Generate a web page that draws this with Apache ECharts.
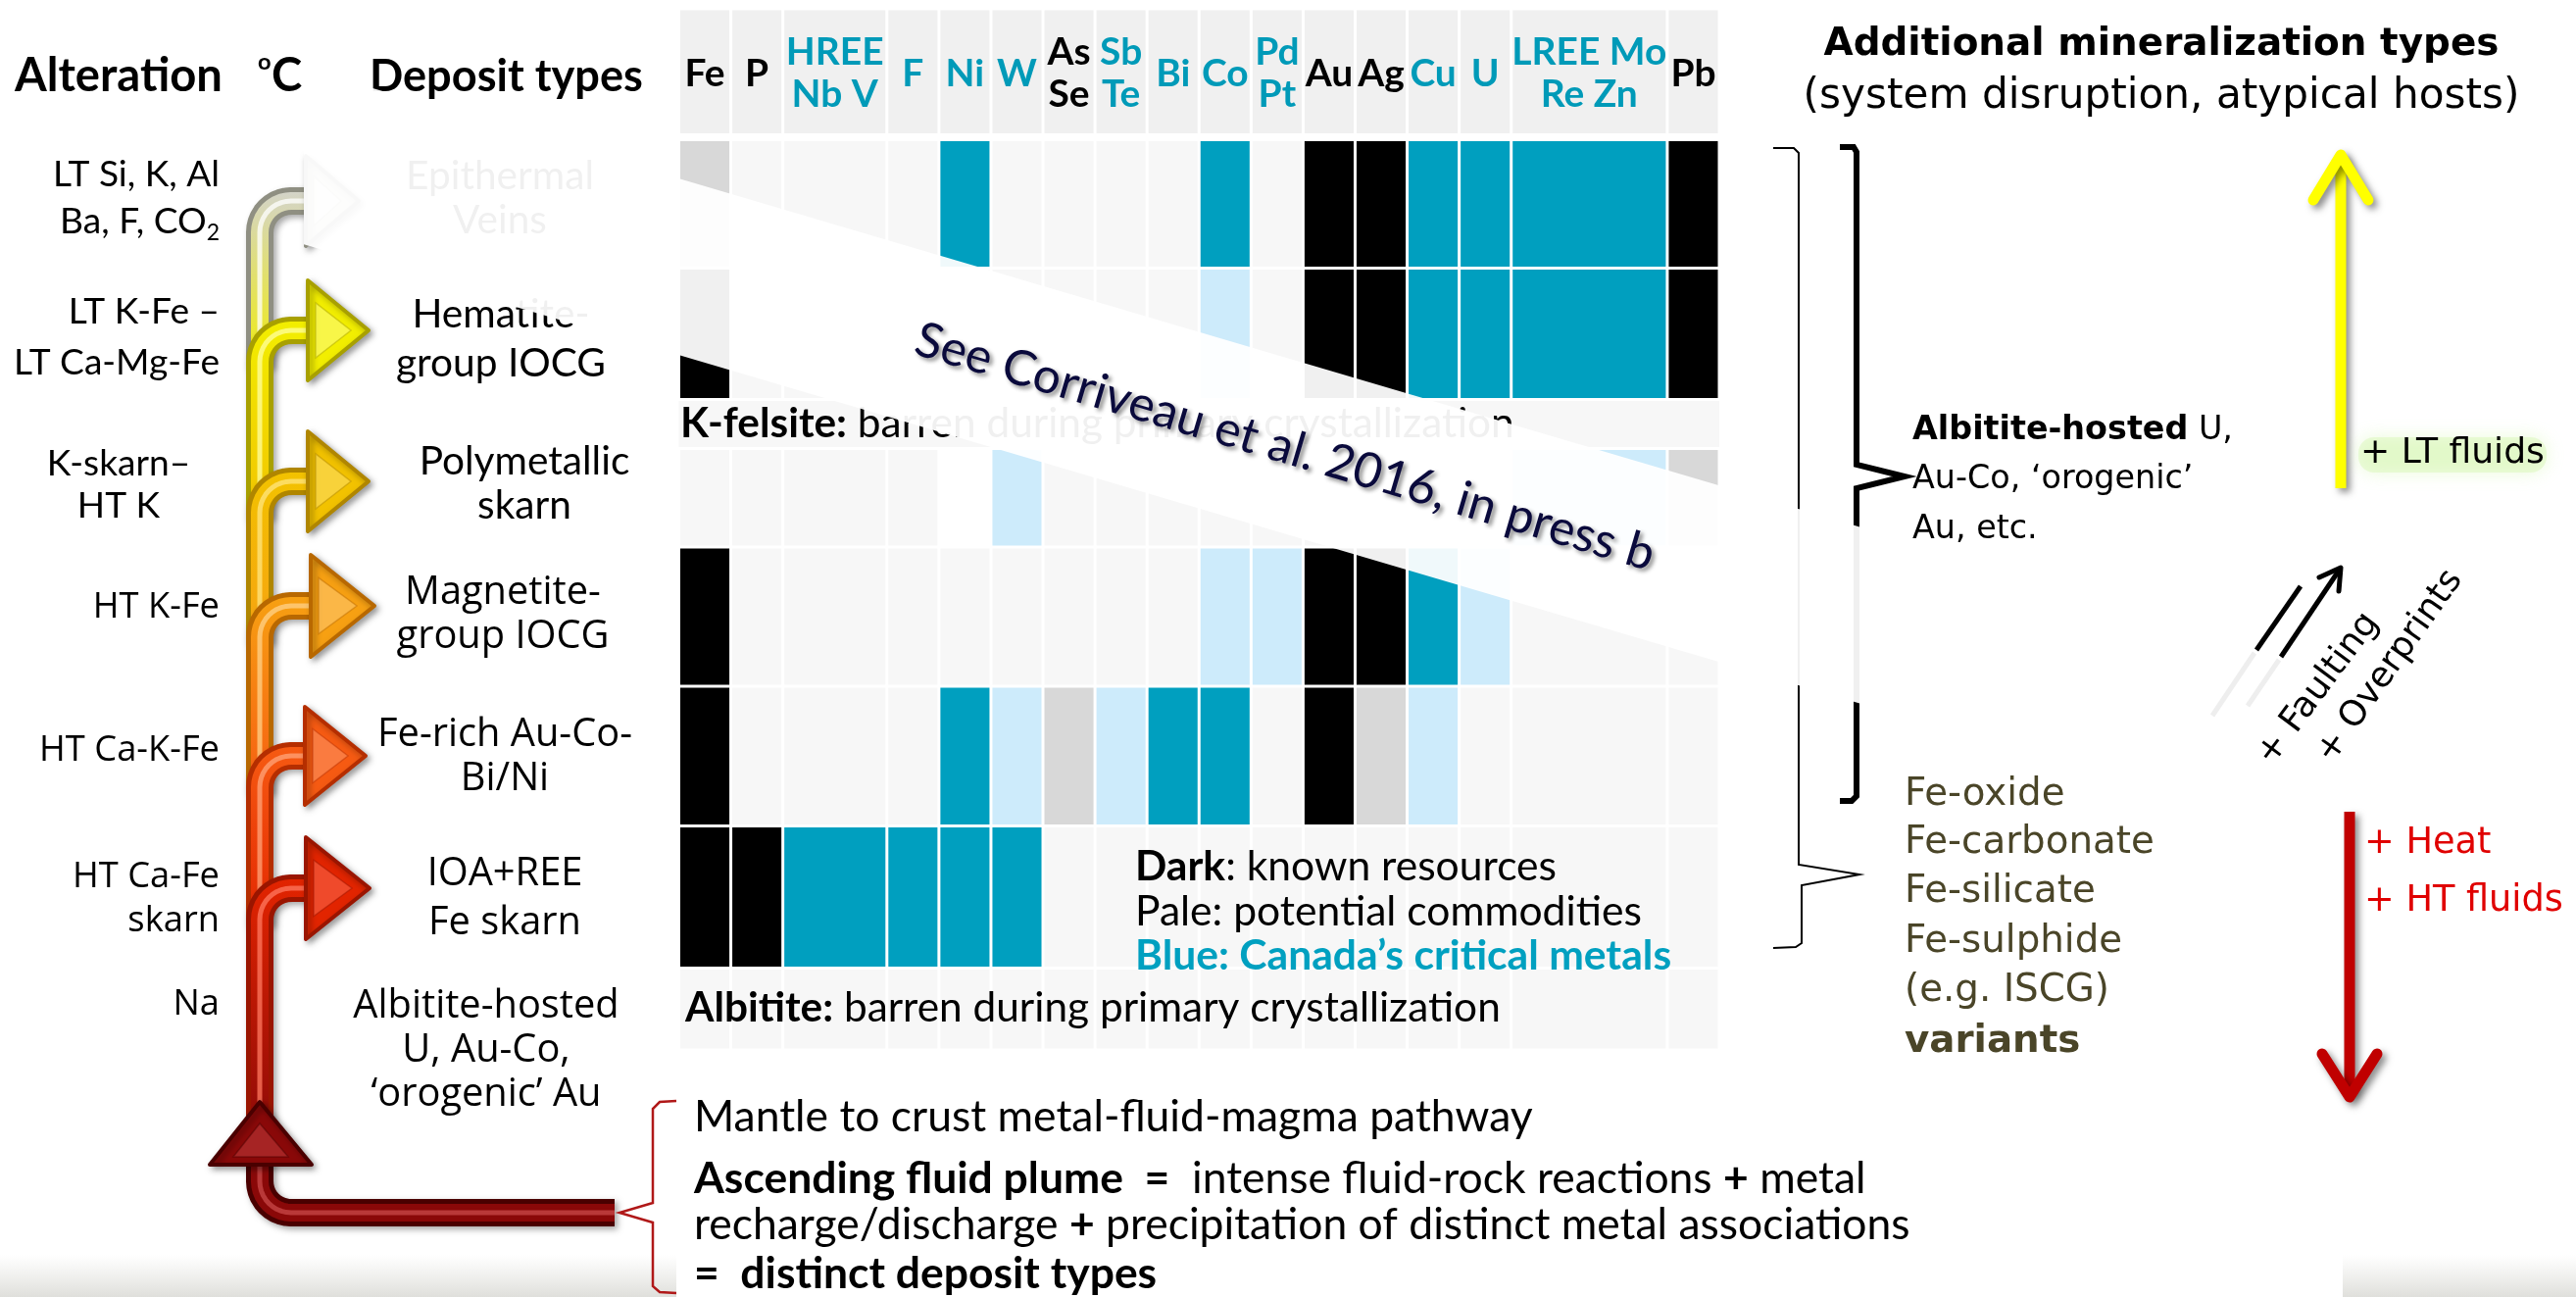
<!DOCTYPE html>
<html><head><meta charset="utf-8">
<script src="https://cdn.jsdelivr.net/npm/echarts@6.0.0/dist/echarts.min.js"></script>
<style>html,body{margin:0;padding:0;background:#fff}#c{width:2628px;height:1323px}</style>
</head><body><div id="c"></div>
<script>
// ================= DATA =================
const metals = ['Fe','P','HREE\nNb V','F','Ni','W','As\nSe','Sb\nTe','Bi','Co','Pd\nPt','Au','Ag','Cu','U','LREE Mo\nRe Zn','Pb'];
const metalSpan = [1,1,2,1,1,1,1,1,1,1,1,1,1,1,1,3,1];          // merged header columns
const criticalMetal = [0,0,1,1,1,1,0,1,1,1,1,0,0,1,1,1,0];       // 1 = Canada's critical metal (blue)
// cell codes: 0 none, 1 potential commodity (pale), 2 known resource (dark), 3 blank
const epithermalVeins   = [1,0,0,0,2,0,0,0,0,2,0,2,2,2,2,2,2];
const hematiteIOCG      = [2,0,0,0,0,0,0,0,0,1,0,2,2,2,2,2,2];
const polymetallicSkarn = [0,0,0,0,3,1,0,0,0,0,0,0,0,0,0,1,1];
const magnetiteIOCG     = [2,0,0,0,0,0,0,0,0,1,1,2,2,2,1,0,0];
const feRichAuCoBiNi    = [2,0,0,0,2,1,1,1,2,2,0,2,1,1,0,0,0];
const ioaREEFeSkarn     = [2,2,2,2,2,2,0,0,0,0,0,0,0,0,0,0,0];
const albititeBarren    = [0,0,0,0,0,0,0,0,0,0,0,0,0,0,0,0,0];

const depositTypes = ['Epithermal\nVeins','Hematite-\ngroup IOCG','Polymetallic\nskarn','Magnetite-\ngroup IOCG','Fe-rich Au-Co-\nBi/Ni','IOA+REE\nFe skarn','Albitite-hosted\nU, Au-Co,\n‘orogenic’ Au'];
const alterationTypes = ['LT Si, K, Al\nBa, F, CO2','LT K-Fe –\nLT Ca-Mg-Fe','K-skarn–\nHT K','HT K-Fe','HT Ca-K-Fe','HT Ca-Fe\nskarn','Na'];
const fePhases = ['Fe-oxide','Fe-carbonate','Fe-silicate','Fe-sulphide','(e.g. ISCG)','variants'];

// ================= LAYOUT =================
const rows = [
  {kind:'header', h:128.5},
  {kind:'gap', h:5},
  {kind:'cells', h:131, v:epithermalVeins},
  {kind:'cells', h:134, v:hematiteIOCG},
  {kind:'band', h:50},
  {kind:'cells', h:100.5, v:polymetallicSkarn},
  {kind:'cells', h:142, v:magnetiteIOCG},
  {kind:'cells', h:142.5, v:feRichAuCoBiNi},
  {kind:'cells', h:145, v:ioaREEFeSkarn},
  {kind:'cells', h:83.5, v:albititeBarren}
];
const colStart = []; {let a=0; metalSpan.forEach(s=>{colStart.push(a); a+=s;});}
const totalUnits = metalSpan.reduce((a,b)=>a+b,0);
const totalH = rows.reduce((a,r)=>a+r.h,0);

const cellData = [];
{let top=0;
 rows.forEach(r=>{
   const bot = top + r.h;
   if (r.kind==='header') metals.forEach((m,c)=>cellData.push([colStart[c], colStart[c]+metalSpan[c], top, bot, 0, 0, c]));
   else if (r.kind==='cells') r.v.forEach((code,c)=>cellData.push([colStart[c], colStart[c]+metalSpan[c], top, bot, 1, code, c]));
   else if (r.kind==='band') cellData.push([0, totalUnits, top, bot, 2, 0, -1]);
   top = bot;
 });
}

const BLUE = '#009fbf', PALEBLUE = '#cdebfb', GREY = '#d8d8d8', EMPTY = '#f7f7f7';
function cellColor(code, crit){
  if (code===1) return crit ? PALEBLUE : GREY;
  if (code===2) return crit ? BLUE : '#000000';
  if (code===3) return '#ffffff';
  return EMPTY;
}

const LATO = 'Lato, "Liberation Sans Narrow", sans-serif';
const OPEN = '"Open Sans", "Noto Sans", sans-serif';
const DEJA = '"DejaVu Sans", Verdana, sans-serif';
const cv = document.createElement('canvas').getContext('2d');
function textW(segs, fam, size){let w=0; segs.forEach(s=>{cv.font=(s[1]||'normal')+' '+size+'px '+fam; w+=cv.measureText(s[0]).width;}); return w;}
function fit(segs, fam, target){return 100*target/textW(segs, fam, 100);}

const sHdrMetal = fit([['LREE Mo','bold']], LATO, 158);
const sAlt = fit([['Alteration','bold']], LATO, 212);
const sDepH = fit([['Deposit types','bold']], LATO, 279);
const sAltTop = fit([['LT Ca-Mg-Fe']], LATO, 210);
const sAltLow = fit([['HT Ca-K-Fe']], OPEN, 184);
const sDepTop = fit([['group IOCG']], LATO, 214);
const sDepLow = fit([['Fe-rich Au-Co-']], OPEN, 260);
const sRowTxt = fit([['Albitite:','bold'],[' barren during primary crystallization']], LATO, 832);
const sLegend = fit([['Pale: potential commodities']], LATO, 517);
const sBanner = fit([['See Corriveau et al. 2016, in press b']], LATO, 784);
const sBottom = fit([['recharge/discharge '],['+','bold'],[' precipitation of distinct metal associations']], LATO, 1241);
const sTitle = fit([['Additional mineralization types','bold']], DEJA, 689);
const sSub = fit([['(system disruption, atypical hosts)']], DEJA, 731);
const sAlbH = fit([['Albitite-hosted','bold'],[' U,']], DEJA, 327);
const sFe = fit([['Fe-carbonate']], DEJA, 255);
const sLT = fit([['+ LT fluids']], DEJA, 188);
const sHT = fit([['+ HT fluids']], DEJA, 203);
const sFault = fit([['+ Faulting']], DEJA, 184);

function txt(text, x, y, size, o){
  o = o || {};
  const al = o.align || 'left';
  const st = {text:text, x:x, y:y, fontSize:size, fontFamily:o.family||LATO, fontWeight:o.weight||'normal',
    fill:o.color||'#000', align:al, textAlign:al, verticalAlign:'middle', textVerticalAlign:'middle'};
  if (o.lineHeight) st.lineHeight = o.lineHeight;
  if (o.rich) st.rich = o.rich;
  if (o.shadow){ st.textShadowColor=o.shadow.c; st.textShadowBlur=o.shadow.b; st.textShadowOffsetX=o.shadow.x||0; st.textShadowOffsetY=o.shadow.y||0; }
  const el = {type:'text', z:o.z==null?5:o.z, silent:true, style:st};
  if (o.rotation!=null){ el.x=x; el.y=y; st.x=0; st.y=0; el.rotation=o.rotation; }
  return el;
}
function bold(size, fam, extra){return Object.assign({fontWeight:'bold', fontSize:size, fontFamily:fam}, extra||{});}

const G = [];
let zc = 3;
function add(el){ if (el.z==null) el.z = (zc+=0.01); G.push(el); return el; }

// ---------- left headers ----------
add(txt('Alteration', 15, 78, sAlt, {weight:'bold'}));
add(txt('o', 263, 63, sAlt*0.5, {weight:'bold'}));
add(txt('C', 277, 78, sAlt, {weight:'bold'}));
add(txt('Deposit types', 377, 78, sDepH, {weight:'bold'}));

// ---------- alteration labels ----------
const altLines = alterationTypes.map(s=>s.split('\n'));
const altY = [[178,226],[318,370],[473,516],[620],[766],[895,940],[1025]];
altLines.forEach((ls,i)=>{
  ls.forEach((t,j)=>{
    const top = i<3, fam = top?LATO:OPEN, sz = top?sAltTop:sAltLow;
    if (i===2){ add(txt(t, 121, altY[i][j], sz, {family:fam, align:'center'})); return; }
    if (t.endsWith('CO2')){
      const w2 = textW([['2']], fam, sz*0.62);
      add(txt(t.slice(0,-1), 224 - w2, altY[i][j], sz, {family:fam, align:'right'}));
      add(txt('2', 224, altY[i][j]+12, sz*0.62, {family:fam, align:'right'}));
      return;
    }
    add(txt(t, 224, altY[i][j], sz, {family:fam, align:'right'}));
  });
});

// ---------- deposit type labels ----------
const depY = [[180,225],[321,371],[471,516],[605,650],[750,795],[892,942],[1027,1072,1117]];
const depX = [510,511,535,513,515,515,496];
depositTypes.forEach((s,i)=>{
  s.split('\n').forEach((t,j)=>{
    const top = i<3;
    add(txt(t, depX[i], depY[i][j], top?sDepTop:sDepLow, {family:top?LATO:OPEN, align:'center'}));
  });
});

// ---------- pipes (ascending plume) ----------
const X0 = 265, R = 32, PW = 28;
const branchY = [205, 337, 491, 618, 771, 906];
const branchTip = [366, 376, 376, 382, 373, 377];
const branchBase = [312, 314, 314, 317, 311, 312];
const branchHalf = [46, 51, 51, 52, 50, 52];
const pipeCol = [
 ['#8f8f82','#d4d4c8','#ffffff'],
 ['#a8a000','#f2ee00','#ffffa0'],
 ['#b08600','#f2c200','#ffe680'],
 ['#b86800','#f7a012','#ffd28a'],
 ['#b52e00','#f65a12','#ffa47a'],
 ['#9a1500','#e22400','#ff7a60'],
 ['#4a0000','#8a0808','#c84848']];
function arc(cx, cy, r, a0, a1){const p=[]; for(let i=0;i<=10;i++){const a=a0+(a1-a0)*i/10; p.push([cx+r*Math.cos(a), cy+r*Math.sin(a)]);} return p;}
function pipe(pts, c, c2){
  const grad = new echarts.graphic.LinearGradient(0,0,0,1,[{offset:0,color:c[1]},{offset:1,color:c2?c2[1]:c[1]}]);
  add({type:'polyline', silent:true, shape:{points:pts}, style:{stroke:c[0], lineWidth:PW, fill:null, lineJoin:'round', shadowColor:'rgba(0,0,0,0.35)', shadowBlur:6, shadowOffsetX:3, shadowOffsetY:3}});
  add({type:'polyline', silent:true, shape:{points:pts}, style:{stroke:grad, lineWidth:PW-10, fill:null, lineJoin:'round'}});
  add({type:'polyline', silent:true, shape:{points:pts}, style:{stroke:c[2], lineWidth:5, fill:null, lineJoin:'round', opacity:0.75}});
}
function head(pts, inner, c){
  add({type:'polygon', silent:true, shape:{points:pts}, style:{fill:c[1], stroke:c[0], lineWidth:4, lineJoin:'round', shadowColor:'rgba(0,0,0,0.35)', shadowBlur:6, shadowOffsetX:3, shadowOffsetY:3}});
  add({type:'polygon', silent:true, shape:{points:inner}, style:{fill:c[2], opacity:0.45, stroke:c[0], lineWidth:1.5}});
}
branchY.forEach((yE,k)=>{
  const yB = k<5 ? branchY[k+1]+R+6 : 1165;
  const pts = [[X0,yB],[X0,yE+R]].concat(arc(X0+R, yE+R, R, Math.PI, Math.PI*1.5)).concat([[branchBase[k]+4, yE]]);
  pipe(pts, pipeCol[k], pipeCol[k+1]);
  const b = branchBase[k], t = branchTip[k], h = branchHalf[k];
  head([[b,yE-h],[t,yE],[b,yE+h]], [[b+8,yE-h*0.55],[t-18,yE],[b+8,yE+h*0.55]], pipeCol[k]);
});
{
  const yb = 1237;
  const pts = [[627,yb],[X0+R,yb]].concat(arc(X0+R, yb-R, R, Math.PI/2, Math.PI)).concat([[X0,1178]]);
  pipe(pts, pipeCol[6]);
  head([[214,1188],[265,1124],[318,1188]], [[238,1180],[265,1146],[294,1180]], pipeCol[6]);
}

// ---------- cell grid texts ----------
add(txt('{b|K-felsite:} barren during primary crystallization', 694, 432, sRowTxt, {rich:{b:bold(sRowTxt, LATO)}}));
add(txt('{b|Albitite:} barren during primary crystallization', 699, 1028, sRowTxt, {rich:{b:bold(sRowTxt, LATO)}}));
add(txt('{b|Dark}: known resources', 1158, 884, sLegend, {rich:{b:bold(sLegend, LATO)}}));
add(txt('Pale: potential commodities', 1158, 930, sLegend));
add(txt('Blue: Canada’s critical metals', 1158, 975, sLegend, {weight:'bold', color:'#00a0c0'}));

// ---------- right panel ----------
add(txt('Additional mineralization types', 2205, 46, sTitle, {family:DEJA, weight:'bold', align:'center'}));
add(txt('(system disruption, atypical hosts)', 2205, 99, sSub, {family:DEJA, align:'center'}));
// thin brace
add({type:'polyline', silent:true, z:5, shape:{points:[[1809,151],[1830,151],[1835,156],[1835,882],[1897,892],[1838,903],[1838,962],[1832,966],[1809,967]]}, style:{stroke:'#000', lineWidth:2, fill:null}});
// thick brace
add({type:'polyline', silent:true, z:5, shape:{points:[[1877,150],[1891,150],[1894,155],[1894,474],[1943,486],[1894,498],[1894,812],[1889,817],[1877,817]]}, style:{stroke:'#000', lineWidth:6, fill:null, lineJoin:'miter'}});
const albRich = {b:bold(sAlbH, DEJA)};
add(txt('{b|Albitite-hosted} U,', 1951, 439, sAlbH, {family:DEJA, rich:albRich}));
add(txt('Au-Co, ‘orogenic’', 1951, 489, sAlbH, {family:DEJA}));
add(txt('Au, etc.', 1951, 540, sAlbH, {family:DEJA}));
const feY = [811, 860, 910, 961, 1011, 1063];
fePhases.forEach((t,i)=>add(txt(t, 1943, feY[i], sFe, {family:DEJA, color:'#4a4528', weight: i===fePhases.length-1?'bold':'normal'})));
// yellow arrow (LT fluids)
const arrShadow = {shadowColor:'rgba(0,0,0,0.45)', shadowBlur:7, shadowOffsetX:4, shadowOffsetY:4};
add({type:'line', silent:true, shape:{x1:2388,y1:498,x2:2388,y2:160}, style:Object.assign({stroke:'#ffff00', lineWidth:11}, arrShadow)});
add({type:'polyline', silent:true, shape:{points:[[2360,204],[2388,158],[2416,204]]}, style:Object.assign({stroke:'#ffff00', lineWidth:11, fill:null, lineJoin:'round', lineCap:'round'}, arrShadow)});
add({type:'rect', silent:true, z:4, shape:{x:2406,y:446,width:192,height:36,r:16}, style:{fill:'rgba(214,246,180,0.45)', shadowColor:'rgba(200,244,150,0.8)', shadowBlur:18}});
add(txt('+ LT fluids', 2408, 463, sLT, {family:DEJA, z:5}));
// red arrow (heat)
add({type:'line', silent:true, shape:{x1:2397,y1:828,x2:2397,y2:1115}, style:Object.assign({stroke:'#c00000', lineWidth:11}, arrShadow)});
add({type:'polyline', silent:true, shape:{points:[[2369,1075],[2397,1119],[2425,1075]]}, style:Object.assign({stroke:'#c00000', lineWidth:11, fill:null, lineJoin:'round', lineCap:'round'}, arrShadow)});
add(txt('+ Heat', 2412, 860, sHT, {family:DEJA, color:'#e00000'}));
add(txt('+ HT fluids', 2412, 919, sHT, {family:DEJA, color:'#e00000'}));
// faulting arrows
add({type:'line', silent:true, shape:{x1:2300,y1:666,x2:2257,y2:730}, style:{stroke:'#eeeeee', lineWidth:5}});
add({type:'line', silent:true, shape:{x1:2325,y1:673,x2:2293,y2:720}, style:{stroke:'#eeeeee', lineWidth:5}});
add({type:'line', silent:true, shape:{x1:2302,y1:663,x2:2347,y2:598}, style:{stroke:'#000', lineWidth:5}});
add({type:'line', silent:true, shape:{x1:2327,y1:670,x2:2386,y2:582}, style:{stroke:'#000', lineWidth:5}});
add({type:'polyline', silent:true, shape:{points:[[2366,589],[2388,579],[2386,603]]}, style:{stroke:'#000', lineWidth:5, fill:null, lineCap:'round', lineJoin:'round'}});
add(txt('+ Faulting', 2365, 703, sFault, {family:DEJA, align:'center', rotation:0.93}));
add(txt('+ Overprints', 2438, 680, sFault, {family:DEJA, align:'center', rotation:0.955}));

// ---------- bottom ----------
add({type:'polyline', silent:true, z:5, shape:{points:[[690,1123],[673,1124],[666,1131],[666,1227],[632,1237],[666,1247],[666,1312],[673,1318],[690,1319]]}, style:{stroke:'#b01818', lineWidth:2.5, fill:null}});
const bR = {b:bold(sBottom, LATO)};
add(txt('Mantle to crust metal-fluid-magma pathway', 708, 1140, sBottom));
add(txt('{b|Ascending fluid plume  =}  intense fluid-rock reactions {b|+} metal', 708, 1203, sBottom, {rich:bR}));
add(txt('recharge/discharge {b|+} precipitation of distinct metal associations', 708, 1250, sBottom, {rich:bR}));
add(txt('{b|=  distinct deposit types}', 708, 1300, sBottom, {rich:bR}));
// faint photo strip at bottom corners
add({type:'rect', silent:true, z:1, shape:{x:0,y:1280,width:690,height:43}, style:{fill:new echarts.graphic.LinearGradient(0,0,0,1,[{offset:0,color:'rgba(220,220,215,0)'},{offset:1,color:'rgba(215,215,210,0.8)'}])}});
add({type:'rect', silent:true, z:1, shape:{x:2390,y:1280,width:238,height:43}, style:{fill:new echarts.graphic.LinearGradient(0,0,0,1,[{offset:0,color:'rgba(220,220,215,0)'},{offset:1,color:'rgba(215,215,210,0.8)'}])}});

// ---------- diagonal banner ----------
const slope = 0.295, bandH = 180;
const yt = x => 182 + slope*(x-692);
add({type:'polygon', silent:true, z:10, shape:{points:[[310,yt(310)],[1915,yt(1915)],[1915,yt(1915)+bandH],[310,yt(310)+bandH]]}, style:{fill:'rgba(255,255,255,0.94)'}});
add(txt('See Corriveau et al. 2016, in press b', 1311, 456, sBanner, {align:'center', color:'#0a0a3c', rotation:-Math.atan(slope), z:11, shadow:{c:'rgba(40,40,40,0.55)', b:4, x:3, y:3}}));

// ================= CHART =================
const chart = echarts.init(document.getElementById('c'), null, {renderer:'canvas'});
chart.setOption({
  animation:false,
  backgroundColor:'#ffffff',
  grid:{left:692.5, top:9, width:1061.5, height:totalH},
  xAxis:{type:'value', min:0, max:totalUnits, show:false},
  yAxis:{type:'value', min:0, max:totalH, inverse:true, show:false},
  series:[{
    type:'custom', z:2, silent:true,
    encode:{x:[0,1], y:[2,3]},
    data:cellData,
    renderItem:function(params, api){
      const x0=api.value(0), x1=api.value(1), y0=api.value(2), y1=api.value(3);
      const kind=api.value(4), code=api.value(5), col=api.value(6);
      const p0=api.coord([x0,y0]), p1=api.coord([x1,y1]);
      const ins=1.5;
      const crit = col>=0 ? criticalMetal[col]===1 : false;
      let fill = kind===0 ? '#f0f0f0' : kind===2 ? EMPTY : cellColor(code, crit);
      const rect = {type:'rect', shape:{x:p0[0]+(kind===2?0:ins), y:p0[1]+ins, width:p1[0]-p0[0]-(kind===2?0:2*ins), height:p1[1]-p0[1]-2*ins}, style:{fill:fill}};
      if (kind!==0) return rect;
      const cx=(p0[0]+p1[0])/2, cy=(p0[1]+p1[1])/2;
      return {type:'group', children:[rect, {type:'text', style:{text:metals[col], x:cx, y:cy+2, fontSize:sHdrMetal, fontFamily:LATO, fontWeight:'bold', lineHeight:sHdrMetal*1.1, fill:crit?'#009ab8':'#000', align:'center', textAlign:'center', verticalAlign:'middle', textVerticalAlign:'middle'}}]};
    }
  }],
  graphic:{elements:G}
});
</script></body></html>
